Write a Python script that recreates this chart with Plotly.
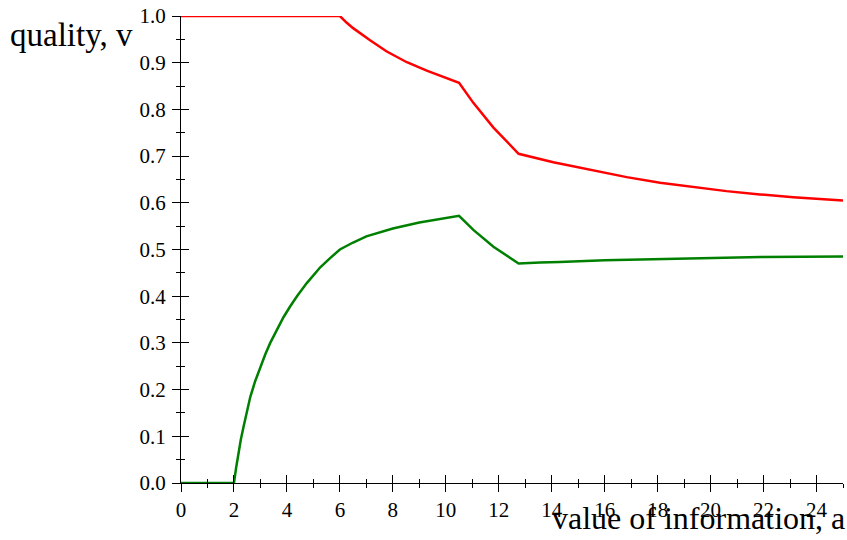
import plotly.graph_objects as go

# data
red_x = [0, 6, 6.25, 6.5, 7.14, 7.77, 8.53, 9.28, 10.5, 11.04, 11.8, 12.75, 14.06, 15.07,
         15.57, 16.83, 18.09, 19.34, 20.6, 21.86, 23.12, 25]
red_y = [1.0, 1.0, 0.986, 0.974, 0.948, 0.924, 0.901, 0.883, 0.857, 0.814, 0.761, 0.705,
         0.687, 0.675, 0.669, 0.655, 0.643, 0.634, 0.625, 0.618, 0.612, 0.605]

green_x = [0, 2, 2.08, 2.17, 2.26, 2.36, 2.48, 2.615, 2.8, 2.99, 3.18, 3.37, 3.62, 3.87,
           4.12, 4.38, 4.75, 5.0, 5.26, 5.6, 6.0, 6.5, 7.0, 8.0, 9.0, 10.5,
           11.04, 11.8, 12.75, 13.56, 14.3, 16, 18.1, 20, 21.9, 25]
green_y = [0.0, 0.0, 0.032, 0.064, 0.093, 0.120, 0.152, 0.184, 0.218, 0.248, 0.275,
           0.300, 0.329, 0.355, 0.378, 0.400, 0.428, 0.445, 0.462, 0.480, 0.500, 0.515,
           0.528, 0.545, 0.558, 0.572, 0.542, 0.506, 0.470, 0.472, 0.473, 0.477, 0.480,
           0.482, 0.484, 0.485]

x_ticks = list(range(0, 25, 2))
y_ticks = [round(i * 0.1, 1) for i in range(11)]
y_labels = [f"{v:.1f}" for v in y_ticks]

x_title = "value of information, a"
y_title = "quality, v"

FONT = "Liberation Serif, Times New Roman, serif"
TICK_W = 1.3

fig = go.Figure()
fig.add_trace(go.Scatter(x=red_x, y=red_y, mode="lines",
                         line=dict(color="#ff0000", width=2.5), cliponaxis=False))
fig.add_trace(go.Scatter(x=green_x, y=green_y, mode="lines",
                         line=dict(color="#008000", width=2.5), cliponaxis=False))
# empty trace creating the overlay axes (inner half of the crossing ticks)
fig.add_trace(go.Scatter(x=[], y=[], xaxis="x2", yaxis="y2", showlegend=False))

common_x = dict(range=[0, 25], showgrid=False, zeroline=False, tickvals=x_ticks,
                tickcolor="black", tickwidth=TICK_W)
common_y = dict(range=[0, 1], showgrid=False, zeroline=False, tickvals=y_ticks,
                tickcolor="black", tickwidth=TICK_W)

fig.update_layout(
    width=847, height=540,
    margin=dict(l=181, r=4, t=13, b=57),
    paper_bgcolor="white", plot_bgcolor="white",
    showlegend=False,
    font=dict(family=FONT, size=21, color="black"),
    xaxis=dict(**common_x, ticks="outside", ticklen=8, ticktext=[str(v) for v in x_ticks],
               showline=True, linecolor="black", linewidth=TICK_W,
               minor=dict(ticks="outside", ticklen=4, dtick=1, tickcolor="black", tickwidth=TICK_W),
               tickfont=dict(family=FONT, size=21), anchor="y", ticklabeloverflow="allow"),
    yaxis=dict(**common_y, ticks="outside", ticklen=8, ticktext=y_labels,
               showline=True, linecolor="black", linewidth=TICK_W,
               minor=dict(ticks="outside", ticklen=4, dtick=0.05, tickcolor="black", tickwidth=TICK_W),
               tickfont=dict(family=FONT, size=21), anchor="x", ticklabeloverflow="allow",
               ticklabelstandoff=2),
    xaxis2=dict(**common_x, ticks="inside", ticklen=8, showticklabels=False,
                minor=dict(ticks="inside", ticklen=4, dtick=1, tickcolor="black", tickwidth=TICK_W),
                overlaying="x", anchor="y2"),
    yaxis2=dict(**common_y, ticks="inside", ticklen=8, showticklabels=False,
                minor=dict(ticks="inside", ticklen=4, dtick=0.05, tickcolor="black", tickwidth=TICK_W),
                overlaying="y", anchor="x2"),
    annotations=[
        dict(text=y_title, xref="paper", yref="paper", x=0, y=1, xanchor="right",
             yanchor="middle", xshift=-46, yshift=-19, showarrow=False,
             font=dict(family=FONT, size=33)),
        dict(text=x_title, xref="paper", yref="paper", x=1, y=0, xanchor="right",
             yanchor="top", xshift=4, yshift=-15, showarrow=False,
             font=dict(family=FONT, size=32)),
    ],
)

fig.write_html("out.html", config={"displayModeBar": False},
               post_script="document.body.style.margin='0';document.body.style.overflow='hidden';")
